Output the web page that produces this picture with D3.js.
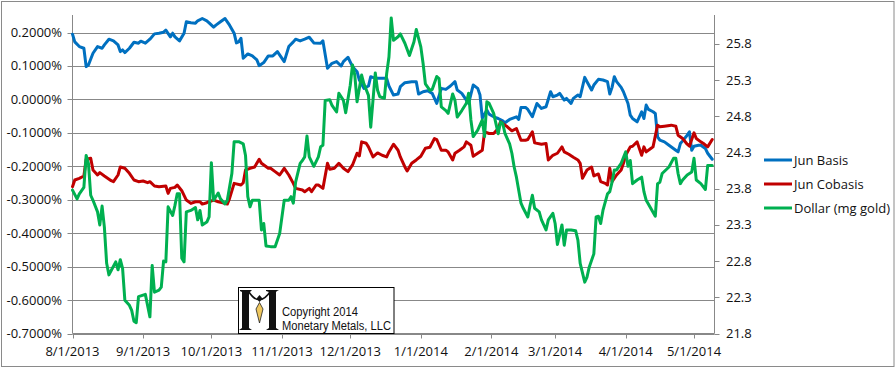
<!DOCTYPE html>
<html><head><meta charset="utf-8">
<script src="https://cdn.jsdelivr.net/npm/d3@7"></script>
<style>body{margin:0;background:#fff}svg{display:block}text{font-family:"Open Sans",sans-serif;fill:#111}</style>
</head><body><svg id="c" width="896" height="369"></svg>
<script>
// ---------- DATA ----------
const monthTicks = ["2013-08-01","2013-09-01","2013-10-01","2013-11-01","2013-12-01","2014-01-01","2014-02-01","2014-03-01","2014-04-01","2014-05-01"];
const leftTicks = [0.2,0.1,0,-0.1,-0.2,-0.3,-0.4,-0.5,-0.6,-0.7];   // percent
const rightTicks = [21.8,22.3,22.8,23.3,23.8,24.3,24.8,25.3,25.8];
const seriesNames = ["Jun Basis","Jun Cobasis","Dollar (mg gold)"];
const seriesColors = ["#0070C0","#C00000","#00B050"];

const junBasis = [
["2013-08-01",0.195],["2013-08-02",0.172],["2013-08-04",0.158],["2013-08-06",0.153],["2013-08-07",0.098],["2013-08-08",0.103],
["2013-08-10",0.138],["2013-08-12",0.158],["2013-08-14",0.153],["2013-08-15",0.163],["2013-08-17",0.180],["2013-08-19",0.175],
["2013-08-21",0.163],["2013-08-22",0.143],["2013-08-23",0.148],["2013-08-24",0.140],["2013-08-26",0.153],["2013-08-28",0.171],
["2013-08-30",0.168],["2013-08-31",0.174],["2013-09-02",0.168],["2013-09-04",0.180],["2013-09-06",0.196],["2013-09-08",0.198],
["2013-09-10",0.201],["2013-09-11",0.207],["2013-09-13",0.187],["2013-09-14",0.198],["2013-09-15",0.187],["2013-09-17",0.175],
["2013-09-19",0.198],["2013-09-20",0.232],["2013-09-22",0.229],["2013-09-24",0.228],["2013-09-25",0.235],["2013-09-27",0.242],
["2013-09-29",0.235],["2013-09-30",0.229],["2013-10-02",0.216],["2013-10-03",0.222],["2013-10-05",0.232],["2013-10-07",0.242],
["2013-10-08",0.232],["2013-10-09",0.222],["2013-10-11",0.198],["2013-10-12",0.169],["2013-10-13",0.172],["2013-10-14",0.183],
["2013-10-15",0.123],["2013-10-17",0.136],["2013-10-19",0.130],["2013-10-21",0.118],["2013-10-22",0.101],["2013-10-24",0.110],
["2013-10-26",0.130],["2013-10-28",0.130],["2013-10-30",0.143],["2013-11-02",0.113],["2013-11-04",0.158],["2013-11-06",0.172],
["2013-11-07",0.180],["2013-11-09",0.175],["2013-11-11",0.180],["2013-11-13",0.186],["2013-11-15",0.169],["2013-11-18",0.168],
["2013-11-19",0.175],["2013-11-21",0.093],["2013-11-23",0.108],["2013-11-25",0.113],["2013-11-27",0.100],["2013-11-28",0.113],
["2013-11-30",0.126],["2013-12-02",0.098],["2013-12-04",0.083],["2013-12-05",0.058],["2013-12-07",0.033],["2013-12-09",0.040],
["2013-12-10",0.068],["2013-12-12",0.063],["2013-12-15",0.063],["2013-12-17",0.063],["2013-12-18",0.040],["2013-12-20",0.013],
["2013-12-22",0.016],["2013-12-23",0.038],["2013-12-25",0.050],["2013-12-28",0.053],["2013-12-30",0.053],["2013-12-31",0.016],
["2014-01-02",0.023],["2014-01-04",0.026],["2014-01-06",0.018],["2014-01-08",-0.012],["2014-01-10",0.033],["2014-01-12",0.030],
["2014-01-14",0.040],["2014-01-16",0.053],["2014-01-17",0.028],["2014-01-19",0.018],["2014-01-21",-0.002],["2014-01-22",-0.012],
["2014-01-24",0.043],["2014-01-26",0.033],["2014-01-27",0.013],["2014-01-28",-0.056],["2014-01-30",-0.032],["2014-01-31",-0.044],
["2014-02-02",-0.052],["2014-02-04",-0.057],["2014-02-06",-0.064],["2014-02-07",-0.070],["2014-02-09",-0.060],["2014-02-12",-0.052],
["2014-02-13",-0.060],["2014-02-14",-0.024],["2014-02-16",-0.024],["2014-02-17",-0.030],["2014-02-19",-0.052],["2014-02-21",-0.012],
["2014-02-23",-0.027],["2014-02-25",-0.022],["2014-02-27",0.023],["2014-02-28",0.008],["2014-03-02",0.013],["2014-03-03",0.018],
["2014-03-05",-0.002],["2014-03-06",0.003],["2014-03-08",-0.012],["2014-03-09",0.003],["2014-03-11",0.013],["2014-03-12",0.008],
["2014-03-14",0.066],["2014-03-15",0.053],["2014-03-17",0.028],["2014-03-18",0.043],["2014-03-20",0.060],["2014-03-22",0.058],
["2014-03-24",0.053],["2014-03-25",0.016],["2014-03-26",0.036],["2014-03-27",0.068],["2014-03-28",0.053],["2014-03-30",0.036],
["2014-03-31",0.023],["2014-04-02",-0.012],["2014-04-03",-0.047],["2014-04-04",-0.057],["2014-04-06",-0.067],["2014-04-08",-0.037],
["2014-04-09",-0.057],["2014-04-10",-0.017],["2014-04-11",-0.030],["2014-04-13",-0.037],["2014-04-14",-0.042],["2014-04-15",-0.112],
["2014-04-16",-0.122],["2014-04-18",-0.127],["2014-04-20",-0.137],["2014-04-23",-0.152],["2014-04-24",-0.157],["2014-04-25",-0.132],
["2014-04-26",-0.124],["2014-04-28",-0.107],["2014-04-29",-0.097],["2014-04-30",-0.152],["2014-05-01",-0.140],["2014-05-03",-0.137],
["2014-05-04",-0.137],["2014-05-06",-0.147],["2014-05-07",-0.161],["2014-05-09",-0.179]
];

const junCobasis = [
["2013-08-01",-0.261],["2013-08-02",-0.241],["2013-08-04",-0.236],["2013-08-06",-0.229],["2013-08-07",-0.179],["2013-08-09",-0.176],
["2013-08-10",-0.211],["2013-08-12",-0.226],["2013-08-13",-0.219],["2013-08-15",-0.229],["2013-08-18",-0.243],["2013-08-19",-0.246],
["2013-08-21",-0.226],["2013-08-22",-0.202],["2013-08-24",-0.206],["2013-08-26",-0.221],["2013-08-28",-0.241],["2013-08-30",-0.246],
["2013-09-01",-0.244],["2013-09-03",-0.249],["2013-09-04",-0.246],["2013-09-06",-0.259],["2013-09-08",-0.261],["2013-09-11",-0.259],
["2013-09-12",-0.281],["2013-09-13",-0.266],["2013-09-15",-0.263],["2013-09-16",-0.256],["2013-09-18",-0.273],["2013-09-20",-0.301],
["2013-09-22",-0.311],["2013-09-24",-0.306],["2013-09-26",-0.306],["2013-09-27",-0.313],["2013-09-29",-0.309],["2013-09-30",-0.306],
["2013-10-02",-0.301],["2013-10-04",-0.306],["2013-10-06",-0.309],["2013-10-08",-0.313],["2013-10-09",-0.296],["2013-10-11",-0.251],
["2013-10-14",-0.256],["2013-10-15",-0.249],["2013-10-16",-0.211],["2013-10-18",-0.206],["2013-10-20",-0.202],["2013-10-22",-0.179],
["2013-10-23",-0.191],["2013-10-26",-0.206],["2013-10-27",-0.206],["2013-10-29",-0.216],["2013-10-31",-0.226],["2013-11-02",-0.206],
["2013-11-04",-0.226],["2013-11-06",-0.251],["2013-11-07",-0.266],["2013-11-10",-0.271],["2013-11-11",-0.276],["2013-11-13",-0.266],
["2013-11-14",-0.276],["2013-11-16",-0.256],["2013-11-17",-0.256],["2013-11-19",-0.266],["2013-11-21",-0.191],["2013-11-22",-0.209],
["2013-11-24",-0.206],["2013-11-26",-0.191],["2013-11-28",-0.206],["2013-11-30",-0.216],["2013-12-02",-0.196],["2013-12-04",-0.161],
["2013-12-05",-0.169],["2013-12-06",-0.127],["2013-12-08",-0.131],["2013-12-09",-0.142],["2013-12-11",-0.172],["2013-12-13",-0.160],
["2013-12-15",-0.167],["2013-12-17",-0.172],["2013-12-18",-0.157],["2013-12-20",-0.134],["2013-12-22",-0.152],["2013-12-23",-0.172],
["2013-12-25",-0.202],["2013-12-26",-0.214],["2013-12-28",-0.191],["2013-12-30",-0.181],["2014-01-01",-0.170],["2014-01-03",-0.146],
["2014-01-05",-0.143],["2014-01-07",-0.117],["2014-01-08",-0.120],["2014-01-10",-0.152],["2014-01-12",-0.152],["2014-01-13",-0.157],
["2014-01-15",-0.181],["2014-01-16",-0.161],["2014-01-18",-0.152],["2014-01-20",-0.142],["2014-01-21",-0.127],["2014-01-23",-0.137],
["2014-01-24",-0.170],["2014-01-26",-0.161],["2014-01-28",-0.152],["2014-01-29",-0.097],["2014-01-31",-0.102],["2014-02-02",-0.102],
["2014-02-04",-0.087],["2014-02-05",-0.067],["2014-02-07",-0.077],["2014-02-08",-0.082],["2014-02-10",-0.094],["2014-02-12",-0.087],
["2014-02-14",-0.122],["2014-02-16",-0.122],["2014-02-17",-0.120],["2014-02-19",-0.097],["2014-02-20",-0.130],["2014-02-23",-0.134],
["2014-02-25",-0.132],["2014-02-26",-0.181],["2014-02-28",-0.167],["2014-03-02",-0.161],["2014-03-04",-0.142],["2014-03-05",-0.157],
["2014-03-07",-0.164],["2014-03-09",-0.173],["2014-03-11",-0.181],["2014-03-12",-0.191],["2014-03-13",-0.236],["2014-03-15",-0.211],
["2014-03-17",-0.202],["2014-03-18",-0.229],["2014-03-20",-0.223],["2014-03-21",-0.246],["2014-03-23",-0.251],["2014-03-24",-0.256],
["2014-03-25",-0.206],["2014-03-26",-0.246],["2014-03-28",-0.226],["2014-03-30",-0.211],["2014-03-31",-0.191],["2014-04-01",-0.167],
["2014-04-03",-0.142],["2014-04-04",-0.140],["2014-04-06",-0.127],["2014-04-08",-0.167],["2014-04-09",-0.142],["2014-04-10",-0.157],
["2014-04-12",-0.147],["2014-04-13",-0.142],["2014-04-15",-0.077],["2014-04-16",-0.082],["2014-04-18",-0.080],["2014-04-21",-0.077],
["2014-04-23",-0.080],["2014-04-24",-0.107],["2014-04-26",-0.117],["2014-04-28",-0.134],["2014-04-29",-0.140],["2014-05-01",-0.100],
["2014-05-02",-0.117],["2014-05-04",-0.127],["2014-05-05",-0.131],["2014-05-07",-0.142],["2014-05-09",-0.120]
];

const dollarMgGold = [
["2013-08-01",23.78],["2013-08-03",23.66],["2013-08-04",23.73],["2013-08-06",23.82],["2013-08-07",24.26],["2013-08-08",24.15],
["2013-08-09",23.71],["2013-08-10",23.64],["2013-08-12",23.48],["2013-08-13",23.30],["2013-08-14",23.56],["2013-08-15",23.27],
["2013-08-16",22.77],["2013-08-17",22.61],["2013-08-18",22.67],["2013-08-20",22.79],["2013-08-21",22.68],["2013-08-22",22.82],
["2013-08-23",22.70],["2013-08-24",22.26],["2013-08-26",22.19],["2013-08-27",22.12],["2013-08-28",21.97],["2013-08-29",21.95],
["2013-08-30",22.31],["2013-09-01",22.33],["2013-09-02",22.34],["2013-09-04",22.03],["2013-09-05",22.74],["2013-09-06",22.37],
["2013-09-08",22.40],["2013-09-09",22.44],["2013-09-10",22.80],["2013-09-11",22.79],["2013-09-12",23.55],["2013-09-14",23.43],
["2013-09-15",23.57],["2013-09-16",23.73],["2013-09-17",23.73],["2013-09-18",22.84],["2013-09-19",22.79],["2013-09-20",23.48],
["2013-09-22",23.50],["2013-09-24",23.54],["2013-09-25",23.37],["2013-09-26",23.50],["2013-09-27",23.30],["2013-09-29",23.34],
["2013-09-30",23.41],["2013-10-01",24.16],["2013-10-02",23.64],["2013-10-04",23.74],["2013-10-05",23.66],["2013-10-07",23.59],
["2013-10-08",23.64],["2013-10-10",24.01],["2013-10-11",24.45],["2013-10-13",24.45],["2013-10-15",24.42],["2013-10-16",24.26],
["2013-10-17",23.69],["2013-10-18",23.55],["2013-10-19",23.64],["2013-10-21",23.64],["2013-10-22",23.64],["2013-10-23",23.23],
["2013-10-24",23.32],["2013-10-25",23.01],["2013-10-27",23.00],["2013-10-29",23.00],["2013-10-31",23.18],["2013-11-02",23.64],
["2013-11-04",23.64],["2013-11-05",23.69],["2013-11-06",23.60],["2013-11-07",23.89],["2013-11-09",24.15],["2013-11-10",24.19],
["2013-11-11",24.24],["2013-11-12",24.53],["2013-11-13",24.24],["2013-11-15",24.11],["2013-11-17",24.24],["2013-11-18",24.38],
["2013-11-19",24.40],["2013-11-20",25.02],["2013-11-22",25.03],["2013-11-23",24.95],["2013-11-25",24.86],["2013-11-26",25.12],
["2013-11-28",25.02],["2013-11-29",24.85],["2013-12-01",25.23],["2013-12-02",25.51],["2013-12-03",25.37],["2013-12-04",25.00],
["2013-12-06",25.37],["2013-12-07",25.25],["2013-12-09",25.09],["2013-12-10",24.65],["2013-12-12",25.40],["2013-12-13",25.16],
["2013-12-14",25.07],["2013-12-16",25.05],["2013-12-17",25.39],["2013-12-18",25.62],["2013-12-19",26.16],["2013-12-20",25.85],
["2013-12-22",25.90],["2013-12-23",25.94],["2013-12-25",25.81],["2013-12-27",25.64],["2013-12-29",25.83],["2013-12-30",26.00],
["2014-01-01",25.76],["2014-01-02",25.53],["2014-01-03",25.25],["2014-01-05",25.16],["2014-01-06",25.17],["2014-01-08",25.35],
["2014-01-09",25.32],["2014-01-10",24.93],["2014-01-12",24.88],["2014-01-13",24.84],["2014-01-15",25.11],["2014-01-16",25.02],
["2014-01-17",24.79],["2014-01-19",24.88],["2014-01-21",24.98],["2014-01-22",25.12],["2014-01-23",24.75],["2014-01-24",24.52],
["2014-01-26",24.61],["2014-01-28",24.75],["2014-01-29",24.52],["2014-01-30",25.00],["2014-01-31",24.98],["2014-02-02",24.84],
["2014-02-03",24.70],["2014-02-04",24.56],["2014-02-05",24.72],["2014-02-06",24.70],["2014-02-07",24.56],["2014-02-09",24.42],
["2014-02-10",24.29],["2014-02-11",24.10],["2014-02-12",23.96],["2014-02-14",23.60],["2014-02-15",23.53],["2014-02-17",23.41],
["2014-02-18",23.57],["2014-02-19",23.71],["2014-02-20",23.53],["2014-02-22",23.48],["2014-02-23",23.37],["2014-02-25",23.23],
["2014-02-26",23.37],["2014-02-28",23.46],["2014-03-01",23.32],["2014-03-02",23.03],["2014-03-04",23.30],["2014-03-05",23.02],
["2014-03-06",23.23],["2014-03-08",23.23],["2014-03-10",23.22],["2014-03-11",23.09],["2014-03-12",22.77],["2014-03-14",22.51],
["2014-03-15",22.58],["2014-03-16",22.72],["2014-03-18",22.90],["2014-03-19",23.41],["2014-03-20",23.42],["2014-03-21",23.32],
["2014-03-22",23.50],["2014-03-24",23.73],["2014-03-25",23.76],["2014-03-26",23.89],["2014-03-27",24.06],["2014-03-28",24.06],
["2014-03-30",24.15],["2014-04-01",24.31],["2014-04-02",24.11],["2014-04-03",24.19],["2014-04-04",23.87],["2014-04-06",23.92],
["2014-04-08",23.96],["2014-04-09",23.76],["2014-04-10",23.64],["2014-04-12",23.53],["2014-04-14",23.42],["2014-04-15",23.87],
["2014-04-16",23.89],["2014-04-17",24.01],["2014-04-20",24.10],["2014-04-22",24.22],["2014-04-23",24.22],["2014-04-24",24.01],
["2014-04-25",23.87],["2014-04-26",23.92],["2014-04-28",23.99],["2014-04-30",24.03],["2014-05-01",24.22],["2014-05-02",23.92],
["2014-05-04",23.87],["2014-05-06",23.79],["2014-05-07",24.12],["2014-05-09",24.12]
];

// ---------- CHART ----------
const parse = d3.utcParse("%Y-%m-%d");
const svg = d3.select("#c");
const L = 72.5, R = 714.5, T = 15, B = 333.5;
const grey = "#888888";

const x = d3.scaleUtc().domain([parse("2013-08-01"), parse("2014-05-10")]).range([L, R]);
const yL = d3.scaleLinear().domain([-0.7, 0.2524]).range([B, T]);
const yR = d3.scaleLinear().domain([21.8, 26.2]).range([B, T]);

// outer border
svg.append("rect").attr("x",1.5).attr("y",1.5).attr("width",892.5).attr("height",365)
  .attr("fill","#fff").attr("stroke","#8a8a8a").attr("stroke-width",1);

// gridlines
svg.append("g").selectAll("line").data(leftTicks).join("line")
  .attr("x1",L).attr("x2",R)
  .attr("y1",d=>Math.round(yL(d))+0.5).attr("y2",d=>Math.round(yL(d))+0.5)
  .attr("stroke",grey).attr("stroke-width",1);

// axes lines
const ax = svg.append("g").attr("stroke",grey).attr("stroke-width",1);
ax.append("line").attr("x1",L).attr("x2",L).attr("y1",T).attr("y2",B);
ax.append("line").attr("x1",R).attr("x2",R).attr("y1",T).attr("y2",B);
ax.append("line").attr("x1",L).attr("x2",R).attr("y1",B).attr("y2",B);

// left ticks + labels
const fmtPct = v => (v < -1e-9 ? "-" : "") + Math.abs(v).toFixed(4) + "%";
ax.selectAll(".lt").data(leftTicks).join("line").attr("class","lt")
  .attr("x1",L-5).attr("x2",L).attr("y1",d=>Math.round(yL(d))+0.5).attr("y2",d=>Math.round(yL(d))+0.5);
svg.append("g").selectAll("text").data(leftTicks).join("text")
  .attr("x",62).attr("y",d=>yL(d)+4.5).attr("text-anchor","end").attr("font-size",13)
  .text(fmtPct);

// right ticks + labels
ax.selectAll(".rt").data(rightTicks).join("line").attr("class","rt")
  .attr("x1",R).attr("x2",R+5).attr("y1",d=>Math.round(yR(d))+0.5).attr("y2",d=>Math.round(yR(d))+0.5);
svg.append("g").selectAll("text").data(rightTicks).join("text")
  .attr("x",726).attr("y",d=>yR(d)+4.5).attr("font-size",13)
  .text(d=>d.toFixed(1));

// bottom ticks + labels
const fmtDate = d => `${d.getUTCMonth()+1}/${d.getUTCDate()}/${d.getUTCFullYear()}`;
const mt = monthTicks.map(parse);
ax.selectAll(".bt").data(mt).join("line").attr("class","bt")
  .attr("x1",d=>Math.round(x(d))+0.5).attr("x2",d=>Math.round(x(d))+0.5).attr("y1",B).attr("y2",B+5);
svg.append("g").selectAll("text").data(mt).join("text")
  .attr("x",d=>x(d)).attr("y",355.5).attr("text-anchor","middle").attr("font-size",13)
  .text(fmtDate);

// series
const lineL = d3.line().x(d=>x(parse(d[0]))).y(d=>yL(d[1]));
const lineR = d3.line().x(d=>x(parse(d[0]))).y(d=>yR(d[1]));
const series = [
  {data: junBasis, gen: lineL},
  {data: junCobasis, gen: lineL},
  {data: dollarMgGold, gen: lineR}
];
svg.append("g").selectAll("path").data(series).join("path")
  .attr("d",s=>s.gen(s.data)).attr("fill","none")
  .attr("stroke",(s,i)=>seriesColors[i]).attr("stroke-width",3)
  .attr("stroke-linejoin","round").attr("stroke-linecap","round");

// logo box (decorative)
const logo = svg.append("g");
logo.append("rect").attr("x",238.5).attr("y",287.5).attr("width",155.5).attr("height",46)
  .attr("fill","#fff").attr("stroke","#000").attr("stroke-width",1);
const mk = logo.append("g").attr("fill","#111");
// stems with serifs
mk.append("path").attr("d","M240,290 L252,290 L250,292 L249,292 L249,328 L252,330 L239,330 L242,328 L242,292 L240,291 Z");
mk.append("path").attr("d","M266,290 L279,290 L277,291 L276,292 L276,328 L279,330 L266,330 L269,328 L269,292 L266,291 Z");
// swag between stem tops
mk.append("path").attr("d","M248,290.5 Q259,309 271,290.5").attr("fill","none").attr("stroke","#111").attr("stroke-width",1.6);
// pendant
mk.append("path").attr("d","M259.5,295 L262.5,298.5 L259.5,302 L256.5,298.5 Z");
logo.append("path").attr("d","M259.5,302.5 L263,309 L259.5,323 L256,309 Z")
  .attr("fill","#EFC75E").attr("stroke","#222").attr("stroke-width",0.8);
logo.append("text").attr("x",282).attr("y",316).attr("font-size",12)
  .attr("textLength",76).attr("lengthAdjust","spacingAndGlyphs")
  .style("font-family","'Liberation Sans',sans-serif").text("Copyright 2014");
logo.append("text").attr("x",282).attr("y",330).attr("font-size",12)
  .attr("textLength",109).attr("lengthAdjust","spacingAndGlyphs")
  .style("font-family","'Liberation Sans',sans-serif").text("Monetary Metals, LLC");

// legend
const legY = [160, 184, 208];
const leg = svg.append("g").selectAll("g").data(seriesNames).join("g");
leg.append("line").attr("x1",764).attr("x2",792).attr("y1",(d,i)=>legY[i]).attr("y2",(d,i)=>legY[i])
  .attr("stroke",(d,i)=>seriesColors[i]).attr("stroke-width",3);
leg.append("text").attr("x",794).attr("y",(d,i)=>legY[i]+4.5).attr("font-size",13).text(d=>d);
</script></body></html>
